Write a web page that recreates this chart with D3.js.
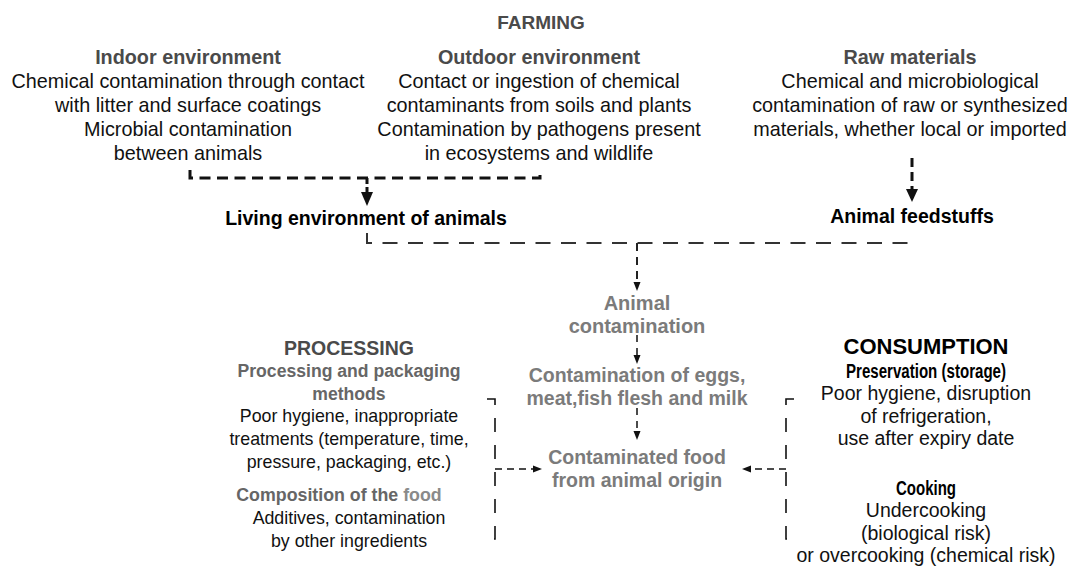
<!DOCTYPE html>
<html><head><meta charset="utf-8">
<script src="https://cdn.jsdelivr.net/npm/d3@7"></script>
<style>body{margin:0;background:#fff}svg{display:block}</style>
</head><body><svg id="c" width="1070" height="574"></svg>
<script>
// ---- content ----
const sectionTitles = ["FARMING", "PROCESSING", "CONSUMPTION"];
const farmingHeads = ["Indoor environment", "Outdoor environment", "Raw materials"];
const indoorLines = ["Chemical contamination through contact", "with litter and surface coatings", "Microbial contamination", "between animals"];
const outdoorLines = ["Contact or ingestion of chemical", "contaminants from soils and plants", "Contamination by pathogens present", "in ecosystems and wildlife"];
const rawLines = ["Chemical and microbiological", "contamination of raw or synthesized", "materials, whether local or imported"];
const farmingOutputs = ["Living environment of animals", "Animal feedstuffs"];
const chainSteps = [["Animal", "contamination"], ["Contamination of eggs,", "meat,fish flesh and milk"], ["Contaminated food", "from animal origin"]];
const processingHead1 = ["Processing and packaging", "methods"];
const processingBody1 = ["Poor hygiene, inappropriate", "treatments (temperature, time,", "pressure, packaging, etc.)"];
const processingHead2 = ["Composition of the ", "food"];
const processingBody2 = ["Additives, contamination", "by other ingredients"];
const consumptionHead1 = ["Preservation (storage)"];
const consumptionBody1 = ["Poor hygiene, disruption", "of refrigeration,", "use after expiry date"];
const consumptionHead2 = ["Cooking"];
const consumptionBody2 = ["Undercooking", "(biological risk)", "or overcooking (chemical risk)"];

// ---- layout ----
const FONT = '"Liberation Sans", Arial, Helvetica, sans-serif';
const NARROW = '"Liberation Sans Narrow", "Arial Narrow", "Liberation Sans", Arial, sans-serif';
const svg = d3.select("#c");
const cx = d3.scaleOrdinal()
  .domain(["farm", "indoor", "outdoor", "raw", "living", "feed", "chain", "proc", "cons"])
  .range([541, 188, 539, 910, 366, 912, 637, 349, 926]);

function block(lines, key, y0, opt) {
  const lh = opt.lh || 23;
  const g = svg.append("g");
  const t = g.selectAll("text").data(lines).join("text")
    .attr("x", cx(key))
    .attr("y", (d, i) => y0 + i * lh)
    .attr("dy", "0.36em")
    .attr("text-anchor", "middle")
    .attr("font-family", opt.family || FONT)
    .attr("font-size", opt.size || 19.5)
    .attr("font-weight", opt.bold ? "bold" : "normal")
    .attr("fill", opt.color || "#111")
    .text(d => d);
  if (opt.width) t.attr("textLength", opt.width).attr("lengthAdjust", "spacingAndGlyphs");
  return g;
}

const cTitle = "#4a4a4a", cChain = "#7b7b7b", cHead = "#666";

// farming
block([sectionTitles[0]], "farm", 22, {bold: true, color: cTitle, size: 19});
block([farmingHeads[0]], "indoor", 57, {bold: true, color: cTitle, size: 19.8});
block(indoorLines, "indoor", 81, {size: 19.8, lh: 24});
block([farmingHeads[1]], "outdoor", 57, {bold: true, color: cTitle, size: 19.8});
block(outdoorLines, "outdoor", 81, {size: 19.8, lh: 24});
block([farmingHeads[2]], "raw", 57, {bold: true, color: cTitle, size: 19.8});
block(rawLines, "raw", 81, {size: 19.8, lh: 24});
block([farmingOutputs[0]], "living", 218, {bold: true, color: "#000", size: 19.5});
block([farmingOutputs[1]], "feed", 216, {bold: true, color: "#000", size: 19.5});

// chain
block(chainSteps[0], "chain", 303, {bold: true, color: cChain, size: 20});
block(chainSteps[1], "chain", 375, {bold: true, color: cChain, size: 19.5});
block(chainSteps[2], "chain", 457, {bold: true, color: cChain, size: 19.5});

// processing
block([sectionTitles[1]], "proc", 348, {bold: true, color: cTitle, size: 19.5});
block(processingHead1, "proc", 371, {bold: true, color: cHead, size: 17.6});
block(processingBody1, "proc", 416, {size: 17.8});
// "Composition of the food" with a lighter "food"
const comp = svg.append("text")
  .attr("x", cx("proc") - 10).attr("y", 495).attr("dy", "0.36em")
  .attr("text-anchor", "middle").attr("font-family", FONT)
  .attr("font-size", 17.8).attr("font-weight", "bold");
comp.selectAll("tspan").data(processingHead2).join("tspan")
  .attr("fill", (d, i) => i === 0 ? cHead : "#8a8a8a")
  .text(d => d);
block(processingBody2, "proc", 518, {size: 17.8});

// consumption
block([sectionTitles[2]], "cons", 346, {bold: true, color: "#000", size: 22});
block(consumptionHead1, "cons", 371, {bold: true, color: "#000", size: 19.5, family: NARROW, width: 160});
block(consumptionBody1, "cons", 393, {size: 19.5, lh: 22.5});
block(consumptionHead2, "cons", 488, {bold: true, color: "#000", size: 19.5, family: NARROW, width: 60});
block(consumptionBody2, "cons", 510, {size: 19.5, lh: 22.5});

// ---- connectors ----
const line = d3.line();
function path(pts, w, dash, color) {
  svg.append("path").attr("d", line(pts)).attr("fill", "none")
    .attr("stroke", color || "#111").attr("stroke-width", w)
    .attr("stroke-dasharray", dash || null);
}
function head(tip, dir, len, half, color) {
  const [tx, ty] = tip, [dx, dy] = dir;
  const bx = tx - dx * len, by = ty - dy * len;
  const px = -dy, py = dx;
  svg.append("path")
    .attr("d", line([[tx, ty], [bx + px * half, by + py * half], [bx - px * half, by - py * half]]) + "Z")
    .attr("fill", color || "#111");
}

// farming bracket (indoor + outdoor)
path([[190, 170], [190, 178], [540, 178], [540, 170]], 3, "11,6.5");
path([[367, 178], [367, 193]], 3, "6,3");
head([367, 206], [0, 1], 14, 6);
// raw materials arrow
path([[912, 158], [912, 193]], 3, "9,5");
head([912, 202], [0, 1], 13, 6);

// second bracket
path([[367, 233], [367, 243], [908, 243], [908, 233]], 2, "15,10.5", "#333");
path([[637, 243], [637, 283]], 2, "8,6", "#222");
head([637, 291], [0, 1], 9, 3.5);

// chain arrows
path([[637, 335], [637, 356]], 1.5, "7,6");
head([637, 364], [0, 1], 9, 3.5);
path([[637, 408], [637, 432]], 1.5, "7,6");
head([637, 440], [0, 1], 9, 3.5);

// processing bracket
path([[487, 399], [495, 399], [495, 539], [487, 539]], 1.6, "14,13");
path([[495, 469], [533, 469]], 1.6, "7,5");
head([542, 469], [1, 0], 9, 3.5);

// consumption bracket
path([[794, 399], [786, 399], [786, 539], [794, 539]], 1.6, "14,13");
path([[786, 469], [751, 469]], 1.6, "7,5");
head([742, 469], [-1, 0], 9, 3.5);
</script></body></html>
